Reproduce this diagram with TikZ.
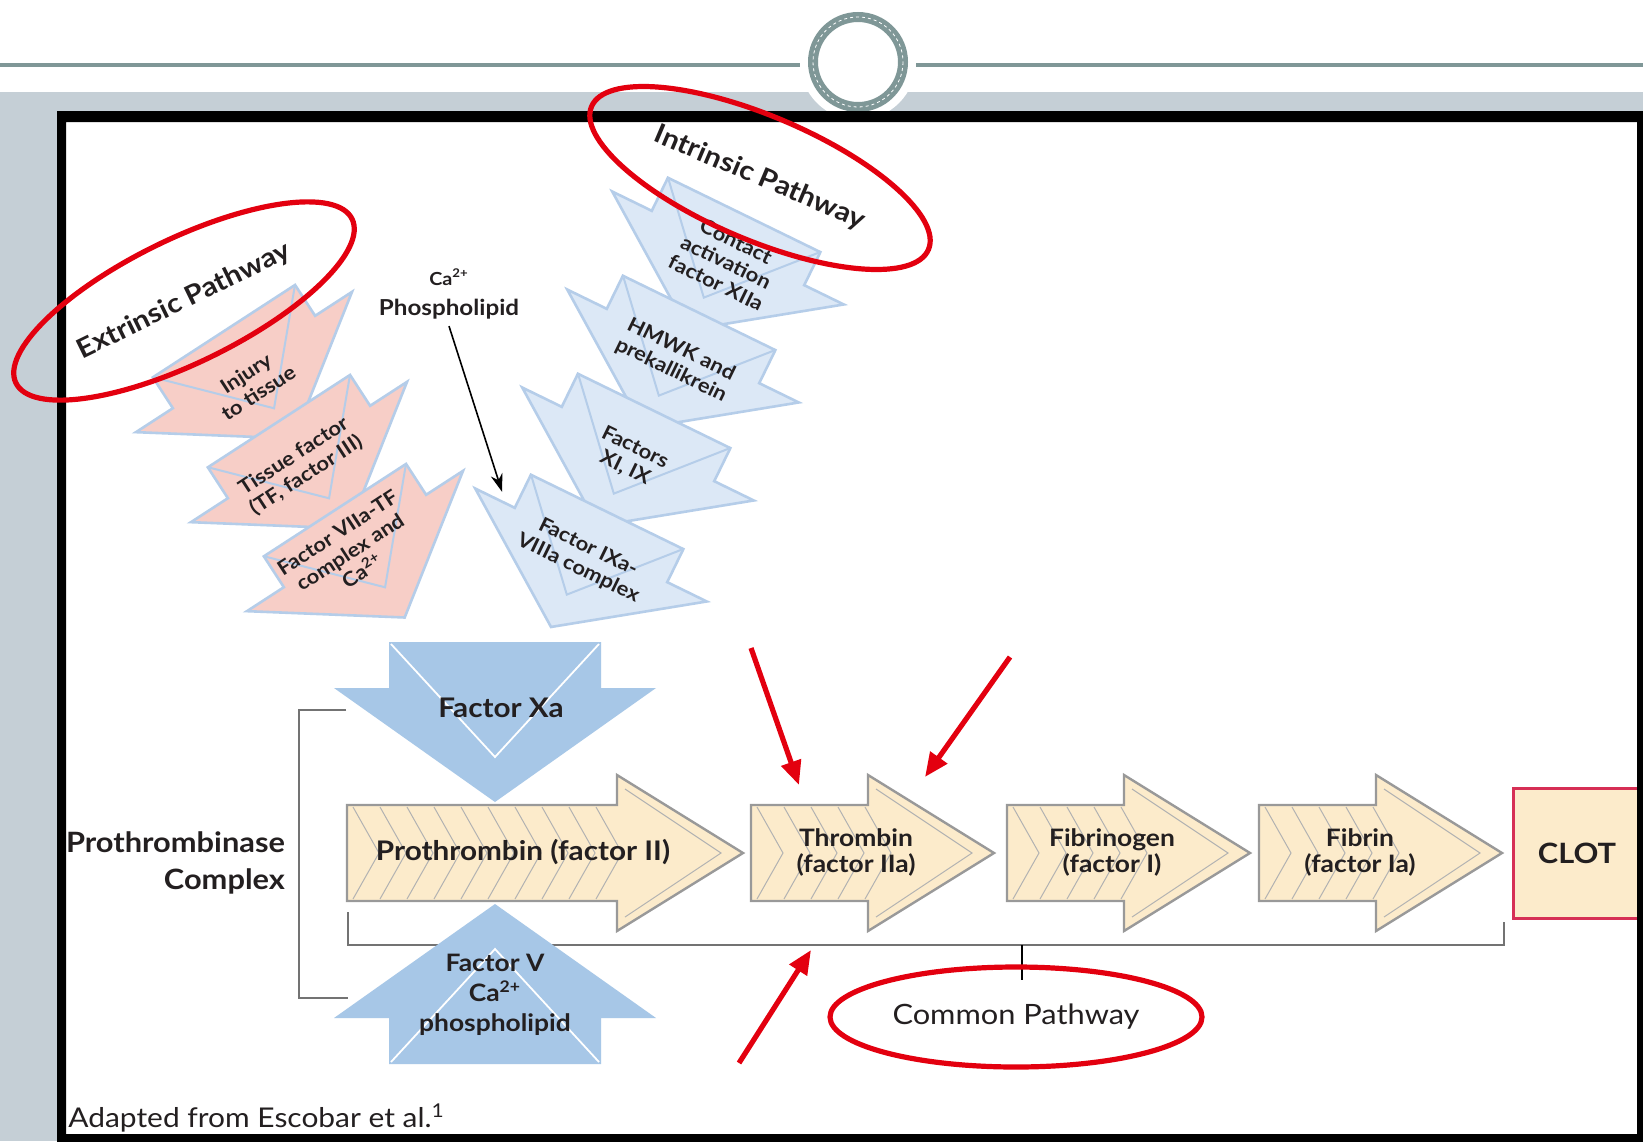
\documentclass[tikz,border=0pt]{standalone}
\usepackage{fontspec}
\setmainfont{Lato}[FakeStretch=1.1]
\usepackage{xcolor}
\usepackage{tikz}
\usetikzlibrary{arrows.meta, shapes.geometric}

\definecolor{slidegray}{HTML}{C5CFD6}
\definecolor{ringgray}{HTML}{7F9797}
\definecolor{beige}{HTML}{FCEBCB}
\definecolor{xablue}{HTML}{A7C7E7}
\definecolor{chevblue}{HTML}{DCE8F6}
\definecolor{chevedge}{HTML}{B5CDE9}
\definecolor{chevpink}{HTML}{F7CEC7}
\definecolor{markred}{HTML}{E3000F}
\definecolor{clotred}{HTML}{D62F55}
\definecolor{ink}{HTML}{231F20}

\begin{document}
\begin{tikzpicture}[x=0.5pt, y=-0.5pt,
    chevfill/.style={fill=xablue},
    fold/.style={draw=white, line width=0.9pt},
    pinkchev/.style={rotate=33, scale=0.8,
        chevfill/.style={fill=chevpink, draw=chevedge, line width=1.3pt},
        fold/.style={draw=chevedge, line width=1pt}},
    bluechev/.style={rotate=-26, scale=0.8,
        chevfill/.style={fill=chevblue, draw=chevedge, line width=1.3pt},
        fold/.style={draw=chevedge, line width=1pt}},
    beigebox/.style={fill=beige, draw=black!40, line width=1.2pt},
    hatch/.style={draw=black!30, line width=0.5pt},
    steptxt/.style={font=\bfseries\fontsize{10}{11.5}\selectfont, align=center, text=ink},
    flowtxt/.style={font=\bfseries\fontsize{12}{13}\selectfont, align=center, text=ink},
    bigtxt/.style={font=\bfseries\fontsize{13.5}{15}\selectfont, align=center, text=ink},
    brk/.style={draw=black!55, line width=1.4pt},
    redring/.style={draw=markred, line width=2.6pt, ellipse, inner sep=0pt, text=ink},
    redarr/.style={draw=markred, line width=2.6pt, -{Triangle[length=12pt, width=10pt]}},
    pics/down/.style={code={
        \path[chevfill] (-106,-46) -- (106,-46) -- (106,0) -- (161,0) -- (0,114)
            -- (-161,0) -- (-106,0) -- cycle;
        \draw[fold] (-104,-44) -- (0,69) -- (104,-44);
        \coordinate (-in) at (-129,-11);
    }},
    pics/fwd/.style={code={
        \path[beigebox] (0,-48) -- (#1,-48) -- (#1,-78) -- ({#1+126},0)
            -- (#1,78) -- (#1,48) -- (0,48) -- cycle;
        \foreach \k in {6,33,...,#1}
            \draw[hatch] (\k,-46) -- ({\k+26},0) -- (\k,46);
        \draw[hatch] ({#1+8},-64) -- ({#1+104},0) -- ({#1+8},64);
    }}
]
\useasboundingbox (0,0) rectangle (1643,1141);

% slide background
\fill[white] (0,0) rectangle (1643,1141);
\fill[slidegray] (0,92) rectangle (1643,1141);
\draw[ringgray, line width=2pt] (0,65) -- (1643,65);
\fill[white] (858,62) circle [radius=58];
\draw[ringgray, line width=5pt] (858,62) circle [radius=45];
\draw[white, line width=0.4pt, dash pattern=on 1.5pt off 1.5pt] (858,62) circle [radius=45];
\fill[white] (66,122) rectangle (1637,1134);

% extrinsic pathway
\pic[pinkchev] (inj) at (244,362) {down};
\pic[pinkchev] (tf) at (299,452) {down};
\pic[pinkchev] (tfc) at (355,541) {down};
\node[steptxt, rotate=33] (injt) at (252,383) {Injury\\to tissue};
\node[steptxt, rotate=33] (tft) at (300,466) {Tissue factor\\(TF, factor III)};
\node[steptxt, rotate=33] (tfct) at (350,552) {Factor VIIa-TF\\complex and\\Ca\textsuperscript{2+}};

% intrinsic pathway
\pic[bluechev] (cnt) at (728,248) {down};
\pic[bluechev] (hmw) at (683,346) {down};
\pic[bluechev] (xi) at (638,444) {down};
\pic[bluechev] (ixa) at (591,545) {down};
\node[steptxt, rotate=-26] (cntt) at (726,262) {Contact\\activation\\factor XIIa};
\node[steptxt, rotate=-26] (hmwt) at (676,360) {HMWK and\\prekallikrein};
\node[steptxt, rotate=-26] (xit) at (630,458) {Factors\\XI, IX};
\node[steptxt, rotate=-26] (ixat) at (583,558) {Factor IXa-\\VIIIa complex};

\node[steptxt, font=\bfseries\fontsize{11}{15}\selectfont] (phos) at (449,294)
    {{\fontsize{9}{10}\selectfont Ca\textsuperscript{2+}}\\Phospholipid};
\draw[-{Stealth[length=9pt, width=6pt]}, line width=0.8pt] (phos.south) -- (ixa-in);

% common pathway
\coordinate (cp-l) at (348,912);
\coordinate (cp-r) at (1504,922);
\draw[brk] (cp-l) -- (348,945) -- (1504,945) -- (cp-r);
\draw[black, line width=1pt] (1022,945) -- (1022,980);

\pic (pro) at (347,853) {fwd=270};
\pic (thr) at (751,853) {fwd=117};
\pic (fbg) at (1007,853) {fwd=117};
\pic (fbn) at (1259,853) {fwd=117};
\node[bigtxt] (prot) at (523,852) {Prothrombin (factor II)};
\node[flowtxt] (thrt) at (856,852) {Thrombin\\(factor IIa)};
\node[flowtxt] (fbgt) at (1112,852) {Fibrinogen\\(factor I)};
\node[flowtxt] (fbnt) at (1360,852) {Fibrin\\(factor Ia)};
\node[draw=clotred, fill=beige, line width=1.5pt, minimum width=64pt, minimum height=65pt,
      font=\bfseries\fontsize{14}{16}\selectfont, text=ink] (clot) at (1577,853) {CLOT};

\pic (xa) at (495,688) {down};
\pic[rotate=180] (fv) at (495,1018) {down};
\node[bigtxt] (xat) at (501,708) {Factor Xa};
\node[bigtxt, font=\bfseries\fontsize{12}{15}\selectfont] (fvt) at (495,995) {Factor V\\Ca\textsuperscript{2+}\\phospholipid};

% prothrombinase bracket
\coordinate (pcx-top) at (346,710);
\coordinate (pcx-bot) at (348,998);
\draw[brk] (pcx-top) -| (299,854) |- (pcx-bot);
\node[anchor=east, align=right, font=\bfseries\fontsize{14}{18.5}\selectfont, text=ink] (pcx) at (292,863) {Prothrombinase\\Complex};

\node[anchor=west, font=\fontsize{13.6}{16}\selectfont, text=ink, inner sep=0pt] (src) at (68,1118) {Adapted from Escobar et al.\textsuperscript{1}};

% frame
\fill[black, even odd rule] (57,111) rectangle (1650,1150) (66,122) rectangle (1637,1134);

% red annotations
\node[redring, rotate=26, minimum width=187pt, minimum height=62pt, font=\bfseries\fontsize{13.4}{15}\selectfont] (ext) at (184,301) {Extrinsic Pathway};
\node[redring, rotate=-23, minimum width=183pt, minimum height=62pt, font=\bfseries\fontsize{13.4}{15}\selectfont] (intr) at (760,178) {Intrinsic Pathway};
\node[redring, minimum width=186pt, minimum height=50pt, font=\fontsize{14}{16}\selectfont] (cpw) at (1016,1017) {Common Pathway};

\coordinate (r1a) at (751,648);
\coordinate (r1b) at (799,785);
\coordinate (r2a) at (1010,657);
\coordinate (r2b) at (925,777);
\coordinate (r3a) at (739,1063);
\coordinate (r3b) at (811,950);
\draw[redarr] (r1a) -- (r1b);
\draw[redarr] (r2a) -- (r2b);
\draw[redarr] (r3a) -- (r3b);
\end{tikzpicture}
\end{document}
